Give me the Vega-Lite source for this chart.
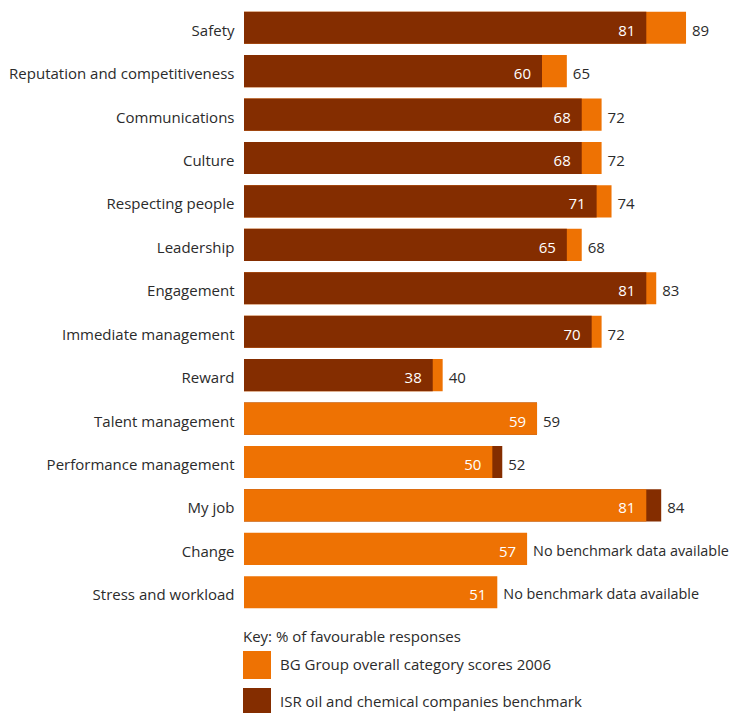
{
  "$schema": "https://vega.github.io/schema/vega-lite/v6.json",
  "width": 447,
  "height": 608,
  "autosize": {"type": "none"},
  "padding": {"left": 244, "top": 6, "right": 43, "bottom": 99},
  "background": "white",
  "config": {
    "view": {"stroke": null},
    "font": "Open Sans",
    "axis": {"labelFont": "Open Sans", "labelColor": "#2b2b2b"},
    "legend": {"labelFont": "Open Sans", "titleFont": "Open Sans"}
  },
  "data": {
    "values": [
      {"category": "Safety", "series": "BG Group overall category scores 2006", "value": 89},
      {"category": "Safety", "series": "ISR oil and chemical companies benchmark", "value": 81},
      {"category": "Reputation and competitiveness", "series": "BG Group overall category scores 2006", "value": 65},
      {"category": "Reputation and competitiveness", "series": "ISR oil and chemical companies benchmark", "value": 60},
      {"category": "Communications", "series": "BG Group overall category scores 2006", "value": 72},
      {"category": "Communications", "series": "ISR oil and chemical companies benchmark", "value": 68},
      {"category": "Culture", "series": "BG Group overall category scores 2006", "value": 72},
      {"category": "Culture", "series": "ISR oil and chemical companies benchmark", "value": 68},
      {"category": "Respecting people", "series": "BG Group overall category scores 2006", "value": 74},
      {"category": "Respecting people", "series": "ISR oil and chemical companies benchmark", "value": 71},
      {"category": "Leadership", "series": "BG Group overall category scores 2006", "value": 68},
      {"category": "Leadership", "series": "ISR oil and chemical companies benchmark", "value": 65},
      {"category": "Engagement", "series": "BG Group overall category scores 2006", "value": 83},
      {"category": "Engagement", "series": "ISR oil and chemical companies benchmark", "value": 81},
      {"category": "Immediate management", "series": "BG Group overall category scores 2006", "value": 72},
      {"category": "Immediate management", "series": "ISR oil and chemical companies benchmark", "value": 70},
      {"category": "Reward", "series": "BG Group overall category scores 2006", "value": 40},
      {"category": "Reward", "series": "ISR oil and chemical companies benchmark", "value": 38},
      {"category": "Talent management", "series": "ISR oil and chemical companies benchmark", "value": 59},
      {"category": "Talent management", "series": "BG Group overall category scores 2006", "value": 59},
      {"category": "Performance management", "series": "ISR oil and chemical companies benchmark", "value": 52},
      {"category": "Performance management", "series": "BG Group overall category scores 2006", "value": 50},
      {"category": "My job", "series": "ISR oil and chemical companies benchmark", "value": 84},
      {"category": "My job", "series": "BG Group overall category scores 2006", "value": 81},
      {"category": "Change", "series": "BG Group overall category scores 2006", "value": 57},
      {"category": "Stress and workload", "series": "BG Group overall category scores 2006", "value": 51}
    ]
  },
  "encoding": {
    "y": {
      "field": "category",
      "type": "nominal",
      "sort": null,
      "scale": {"paddingInner": 0.26, "paddingOuter": 0.13},
      "axis": {
        "title": null,
        "domain": false,
        "ticks": false,
        "labelPadding": 10,
        "labelFontSize": 15,
        "labelOffset": 3,
        "labelLimit": 300
      }
    }
  },
  "layer": [
    {
      "mark": {"type": "bar"},
      "encoding": {
        "x": {
          "field": "value",
          "type": "quantitative",
          "stack": null,
          "scale": {"domain": [0, 90], "nice": false, "zero": true},
          "axis": null
        },
        "color": {
          "field": "series",
          "type": "nominal",
          "scale": {
            "domain": ["BG Group overall category scores 2006", "ISR oil and chemical companies benchmark"],
            "range": ["#ee7203", "#842d00"]
          },
          "legend": {
            "orient": "none",
            "legendX": -1,
            "legendY": 624,
            "title": "Key: % of favourable responses",
            "titleFontSize": 15,
            "titleFontWeight": "normal",
            "titleColor": "#2b2b2b",
            "titlePadding": 6,
            "titleLimit": 500,
            "symbolType": "square",
            "symbolSize": 784,
            "symbolStrokeWidth": 0,
            "symbolOpacity": 1,
            "labelFontSize": 15,
            "labelColor": "#2b2b2b",
            "labelOffset": 9,
            "rowPadding": 9,
            "padding": 0,
            "labelLimit": 400
          }
        },
        "order": {"field": "value", "sort": "descending"}
      }
    },
    {
      "transform": [
        {"aggregate": [{"op": "min", "field": "value", "as": "lo"}], "groupby": ["category"]}
      ],
      "mark": {"type": "text", "align": "right", "baseline": "middle", "dx": -11, "dy": 3, "fontSize": 15, "color": "white"},
      "encoding": {
        "x": {"field": "lo", "type": "quantitative"},
        "text": {"field": "lo", "type": "quantitative", "format": "d"}
      }
    },
    {
      "transform": [
        {"aggregate": [{"op": "max", "field": "value", "as": "hi"}, {"op": "count", "as": "n"}], "groupby": ["category"]},
        {"calculate": "datum.n > 1 ? format(datum.hi, 'd') : 'No benchmark data available'", "as": "label"}
      ],
      "mark": {"type": "text", "align": "left", "baseline": "middle", "dx": 6, "dy": 3, "color": "#2b2b2b"},
      "encoding": {
        "x": {"field": "hi", "type": "quantitative"},
        "text": {"field": "label", "type": "nominal"},
        "size": {"condition": {"test": "datum.n == 1", "value": 14.4}, "value": 15}
      }
    }
  ]
}
